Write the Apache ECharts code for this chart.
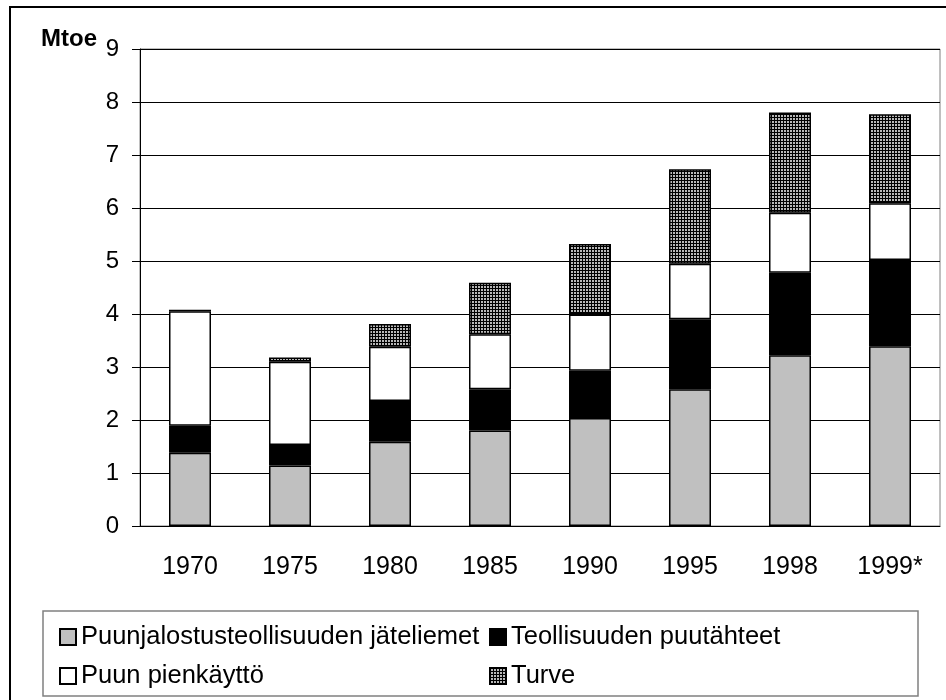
<!DOCTYPE html>
<html>
<head>
<meta charset="utf-8">
<title>Mtoe</title>
<script src="https://cdn.jsdelivr.net/npm/echarts@6/dist/echarts.min.js"></script>
<style>
  html, body { margin: 0; padding: 0; background: #fff; }
  #chart { width: 946px; height: 700px; }
</style>
</head>
<body>
<div id="chart"></div>
<script>
  // 数据
  const years = ['1970', '1975', '1980', '1985', '1990', '1995', '1998', '1999*']
  const yTicks = [0, 1, 2, 3, 4, 5, 6, 7, 8, 9]
  const jateliemet = [1.38, 1.14, 1.59, 1.80, 2.04, 2.58, 3.22, 3.39]
  const puutahteet = [0.51, 0.39, 0.77, 0.78, 0.89, 1.32, 1.56, 1.63]
  const pienkaytto = [2.16, 1.57, 1.02, 1.04, 1.06, 1.05, 1.13, 1.07]
  const turve = [0.03, 0.08, 0.43, 0.97, 1.33, 1.78, 1.89, 1.68]

  const names = [
    'Puunjalostusteollisuuden jäteliemet',
    'Teollisuuden puutähteet',
    'Puun pienkäyttö',
    'Turve'
  ]

  // 网格图案（Turve）
  const makePattern = () => {
    const c = document.createElement('canvas')
    c.width = 3
    c.height = 3
    const ctx = c.getContext('2d')
    ctx.fillStyle = '#b8b8b8'
    ctx.fillRect(0, 0, 3, 3)
    ctx.fillStyle = '#000'
    ctx.fillRect(0, 0, 3, 1)
    ctx.fillRect(0, 0, 1, 3)
    return c
  }

  const font = 'Arial, "Liberation Sans", sans-serif'
  const border = { borderColor: '#000', borderWidth: 1.5 }

  const bar = (name, data, color) => ({
    name,
    type: 'bar',
    stack: 'total',
    barWidth: '42%',
    data,
    itemStyle: Object.assign({ color }, border)
  })

  const legendStyle = {
    orient: 'vertical',
    top: 619,
    icon: 'rect',
    itemWidth: 16,
    itemHeight: 16,
    itemGap: 13,
    textStyle: { fontFamily: font, fontSize: 25.5, color: '#000' }
  }

  const chart = echarts.init(document.getElementById('chart'))
  chart.setOption({
    animation: false,
    backgroundColor: '#fff',
    title: {
      text: 'Mtoe',
      left: 36,
      top: 22,
      textStyle: { fontFamily: font, fontSize: 24, fontWeight: 'bold', color: '#000' }
    },
    grid: {
      left: 140,
      right: 6,
      top: 49,
      bottom: 174,
      show: true,
      borderColor: '#808080',
      borderWidth: 1
    },
    xAxis: {
      type: 'category',
      data: years,
      axisLine: { lineStyle: { color: '#000', width: 1 } },
      axisTick: { length: 9, lineStyle: { color: '#000' } },
      axisLabel: { margin: 29, fontFamily: font, fontSize: 25, color: '#000' }
    },
    yAxis: {
      type: 'value',
      min: yTicks[0],
      max: yTicks[yTicks.length - 1],
      interval: 1,
      axisLine: { show: true, lineStyle: { color: '#000', width: 1 } },
      axisTick: { show: true, length: 8, lineStyle: { color: '#000' } },
      axisLabel: { margin: 21, fontFamily: font, fontSize: 24, color: '#000' },
      splitLine: { lineStyle: { color: '#000', width: 1 } }
    },
    legend: [
      Object.assign({ data: [names[0], names[2]], left: 54 }, legendStyle),
      Object.assign({ data: [names[1], names[3]], left: 484 }, legendStyle)
    ],
    graphic: [
      {
        type: 'rect',
        shape: { x: 10, y: 7, width: 950, height: 710 },
        style: { fill: null, stroke: '#000', lineWidth: 2 },
        silent: true
      },
      {
        type: 'rect',
        shape: { x: 43, y: 611, width: 875, height: 85 },
        style: { fill: null, stroke: '#808080', lineWidth: 1.5 },
        silent: true
      }
    ],
    series: [
      bar(names[0], jateliemet, '#c0c0c0'),
      bar(names[1], puutahteet, '#000'),
      bar(names[2], pienkaytto, '#fff'),
      bar(names[3], turve, { image: makePattern(), repeat: 'repeat' })
    ]
  })
</script>
</body>
</html>
